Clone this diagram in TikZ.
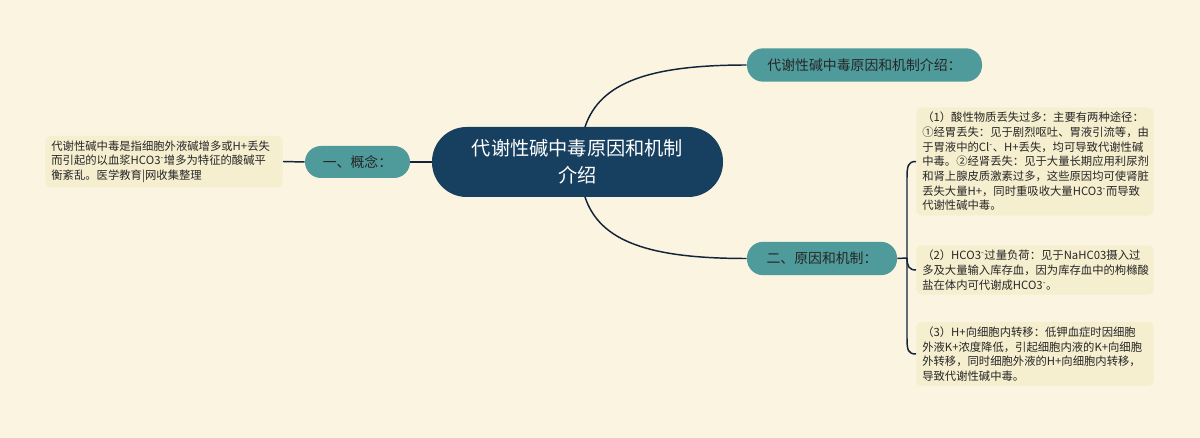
\documentclass[tikz,border=0pt]{standalone}
\usepackage{fontspec}
\setmainfont{Noto Sans CJK SC}
\definecolor{bgc}{HTML}{FAF4E1}
\definecolor{navy}{HTML}{173F5F}
\definecolor{teal2}{HTML}{4F9A9A}
\definecolor{boxc}{HTML}{F5EECF}
\definecolor{txt}{HTML}{262626}
\definecolor{lnc}{HTML}{13243A}
\tikzset{
  rootnode/.style={fill=navy, text=white, rounded corners=26pt, minimum width=218.25pt, minimum height=52.5pt, align=center, inner sep=0pt, font=\fontsize{14.4pt}{20.5pt}\selectfont},
  topicnode/.style={fill=teal2, text=txt, rounded corners=12pt, minimum height=25pt, inner sep=0pt, font=\fontsize{10.4pt}{12pt}\selectfont},
  leafbox/.style={fill=boxc, text=txt, rounded corners=4pt, text width=169pt, inner xsep=4.5pt, inner ysep=3.5pt, align=left, font=\fontsize{8.5pt}{11pt}\selectfont},
  conn/.style={draw=lnc, line width=1.1pt}
}
\begin{document}
\begin{tikzpicture}[x=0.75pt,y=-0.75pt]
\fill[bgc] (0,0) rectangle (1200,438);
\useasboundingbox (0,0) rectangle (1200,438);

\node[rootnode] (root) at (577.5,162) {代谢性碱中毒原因和机制\\介绍};
\node[topicnode, minimum width=176.25pt] (top) at (864.5,65) {代谢性碱中毒原因和机制介绍：};
\node[topicnode, minimum width=78.75pt, minimum height=24pt] (concept) at (357.5,162) {一、概念：};
\node[topicnode, minimum width=112.5pt] (cause) at (822,258.5) {二、原因和机制：};

\node[leafbox, anchor=east] (left) at (283,161.5) {代谢性碱中毒是指细胞外液碱增多或H+丢失\\而引起的以血浆HCO3\textsuperscript{-}增多为特征的酸碱平\\衡紊乱。医学教育|网收集整理};

\node[leafbox, anchor=west] (b1) at (916,161.5) {（1）酸性物质丢失过多：主要有两种途径：\\①经胃丢失：见于剧烈呕吐、胃液引流等，由\\于胃液中的Cl\textsuperscript{-}、H+丢失，均可导致代谢性碱\\中毒。②经肾丢失：见于大量长期应用利尿剂\\和肾上腺皮质激素过多，这些原因均可使肾脏\\丢失大量H+，同时重吸收大量HCO3\textsuperscript{-}而导致\\代谢性碱中毒。};
\node[leafbox, anchor=west] (b2) at (916,270) {（2）HCO3\textsuperscript{-}过量负荷：见于NaHC03摄入过\\多及大量输入库存血，因为库存血中的枸橼酸\\盐在体内可代谢成HCO3\textsuperscript{-}。};
\node[leafbox, anchor=west] (b3) at (916,354) {（3）H+向细胞内转移：低钾血症时因细胞\\外液K+浓度降低，引起细胞内液的K+向细胞\\外转移，同时细胞外液的H+向细胞内转移，\\导致代谢性碱中毒。};

\coordinate (rt) at (585,127);
\coordinate (rb) at (585,197);
\coordinate (bx) at (907,258);

\draw[conn] (rt) .. controls (600,82) and (650,65) .. (top.west);
\draw[conn] (rb) .. controls (600,242) and (650,258.5) .. (cause.west);
\draw[conn] (root.west) -- (concept.east);
\draw[conn] (concept.west) -- (left.east);
\draw[conn] (cause.east) -- (bx);
\draw[conn] (b1.west) .. controls (908,161.5) and (907,166) .. (907,178) -- (907,338) .. controls (907,350) and (908,354) .. (b3.west);
\draw[conn] (bx) .. controls (907,266) and (909,270) .. (b2.west);
\end{tikzpicture}
\end{document}
